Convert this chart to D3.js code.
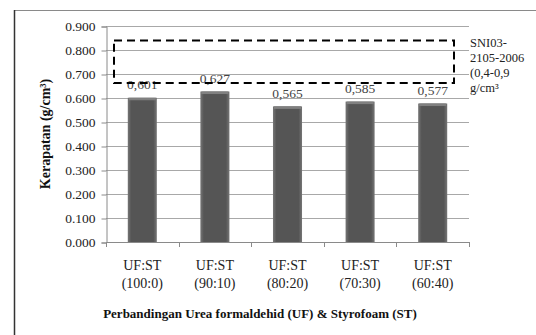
<!DOCTYPE html>
<html>
<head>
<meta charset="utf-8">
<script src="https://cdn.jsdelivr.net/npm/d3@7"></script>
<style>
  html, body { margin: 0; padding: 0; background: #fff; }
  svg { display: block; }
  text { font-family: "Liberation Serif", "Times New Roman", serif; }
</style>
</head>
<body>
<script>
// Density of boards by UF : Styrofoam ratio
const categories = ["UF:ST|(100:0)", "UF:ST|(90:10)", "UF:ST|(80:20)", "UF:ST|(70:30)", "UF:ST|(60:40)"];
const densities = [0.601, 0.627, 0.565, 0.585, 0.577];
const valueLabels = ["0,601", "0,627", "0,565", "0,585", "0,577"];
const yTicks = [0, 0.1, 0.2, 0.3, 0.4, 0.5, 0.6, 0.7, 0.8, 0.9];
const standardLines = ["SNI03-", "2105-2006", "(0,4-0,9", "g/cm³"];
// Standard band drawn as dashed box (upper/lower density in chart units)
const standardBox = [0.84, 0.662];

const W = 536, H = 335;
const svg = d3.select("body").append("svg").attr("width", W).attr("height", H);

const defs = svg.append("defs");
const grad = defs.append("linearGradient").attr("id", "barGrad")
  .attr("x1", "0%").attr("x2", "100%").attr("y1", "0%").attr("y2", "0%");
grad.append("stop").attr("offset", "0%").attr("stop-color", "#767676");
grad.append("stop").attr("offset", "12%").attr("stop-color", "#555");
grad.append("stop").attr("offset", "88%").attr("stop-color", "#555");
grad.append("stop").attr("offset", "100%").attr("stop-color", "#767676");

// Frame
svg.append("line").attr("x1", 14).attr("x2", 536).attr("y1", 10.5).attr("y2", 10.5)
  .attr("stroke", "#8a8a8a").attr("stroke-width", 1);
svg.append("line").attr("x1", 14.5).attr("x2", 14.5).attr("y1", 10).attr("y2", 335)
  .attr("stroke", "#333").attr("stroke-width", 1.5);

const x = d3.scaleBand().domain(categories).range([106, 469]).paddingInner(0.6).paddingOuter(0.3);
const xOuter = d3.scaleBand().domain(categories).range([106, 469]);
const y = d3.scaleLinear().domain([0, 0.9]).range([242, 26]);

// Gridlines
svg.append("g").selectAll("line").data(yTicks.slice(1)).join("line")
  .attr("x1", 106).attr("x2", 469)
  .attr("y1", d => Math.round(y(d)) + 0.5).attr("y2", d => Math.round(y(d)) + 0.5)
  .attr("stroke", "#a8a8a8").attr("stroke-width", 1);

// Y axis
const yAxis = svg.append("g").attr("transform", "translate(106.5,0.5)")
  .call(d3.axisLeft(y).tickValues(yTicks).tickFormat(d3.format(".3f")).tickSize(5).tickPadding(6));
yAxis.attr("font-family", null);
yAxis.select(".domain").attr("stroke", "#8a8a8a");
yAxis.selectAll(".tick line").attr("stroke", "#8a8a8a");
yAxis.selectAll(".tick text").attr("font-size", 13.5).attr("fill", "#222");

// X axis line and boundary ticks
svg.append("line").attr("x1", 106).attr("x2", 469).attr("y1", 242.5).attr("y2", 242.5)
  .attr("stroke", "#8a8a8a");
const bounds = categories.map(c => xOuter(c)).concat([469]);
svg.append("g").selectAll("line").data(bounds).join("line")
  .attr("x1", d => Math.round(d) + 0.5).attr("x2", d => Math.round(d) + 0.5)
  .attr("y1", 242).attr("y2", 247).attr("stroke", "#8a8a8a");

// Bars
const bars = svg.append("g");
bars.selectAll("rect.bar").data(densities).join("rect").attr("class", "bar")
  .attr("x", (d, i) => x(categories[i]))
  .attr("width", x.bandwidth())
  .attr("y", d => y(d))
  .attr("height", d => y(0) - y(d))
  .attr("fill", "url(#barGrad)");
// bevel highlight on bar tops
bars.selectAll("rect.cap").data(densities).join("rect").attr("class", "cap")
  .attr("x", (d, i) => x(categories[i]) + 1)
  .attr("width", x.bandwidth() - 2)
  .attr("y", d => y(d))
  .attr("height", 2.5)
  .attr("fill", "#808080");

// Value labels
svg.append("g").selectAll("text").data(densities).join("text")
  .attr("x", (d, i) => x(categories[i]) + x.bandwidth() / 2)
  .attr("y", d => y(d) - 8.5)
  .attr("text-anchor", "middle")
  .attr("font-size", 13.5).attr("fill", "#444")
  .text((d, i) => valueLabels[i]);

// Standard dashed box
svg.append("rect")
  .attr("x", 114).attr("width", 454 - 114)
  .attr("y", y(standardBox[0])).attr("height", y(standardBox[1]) - y(standardBox[0]))
  .attr("fill", "none").attr("stroke", "#000").attr("stroke-width", 2)
  .attr("stroke-dasharray", "8,5");

svg.append("g").selectAll("text").data(standardLines).join("text")
  .attr("x", 470).attr("y", (d, i) => 47 + i * 15)
  .attr("font-size", 12.5).attr("fill", "#222")
  .text(d => d);

// Category labels
const catG = svg.append("g");
categories.forEach(c => {
  const cx = x(c) + x.bandwidth() / 2;
  const parts = c.split("|");
  parts.forEach((p, j) => {
    catG.append("text").attr("x", cx).attr("y", 270 + j * 18)
      .attr("text-anchor", "middle").attr("font-size", 14).attr("fill", "#222").text(p);
  });
});

// Axis titles
svg.append("text").attr("transform", "translate(50,134) rotate(-90)")
  .attr("text-anchor", "middle").attr("font-size", 14).attr("font-weight", "bold")
  .attr("fill", "#111").text("Kerapatan (g/cm³)");
svg.append("text").attr("x", 260).attr("y", 318)
  .attr("text-anchor", "middle").attr("font-size", 13).attr("font-weight", "bold")
  .attr("fill", "#111").text("Perbandingan Urea formaldehid (UF) & Styrofoam (ST)");
</script>
</body>
</html>
